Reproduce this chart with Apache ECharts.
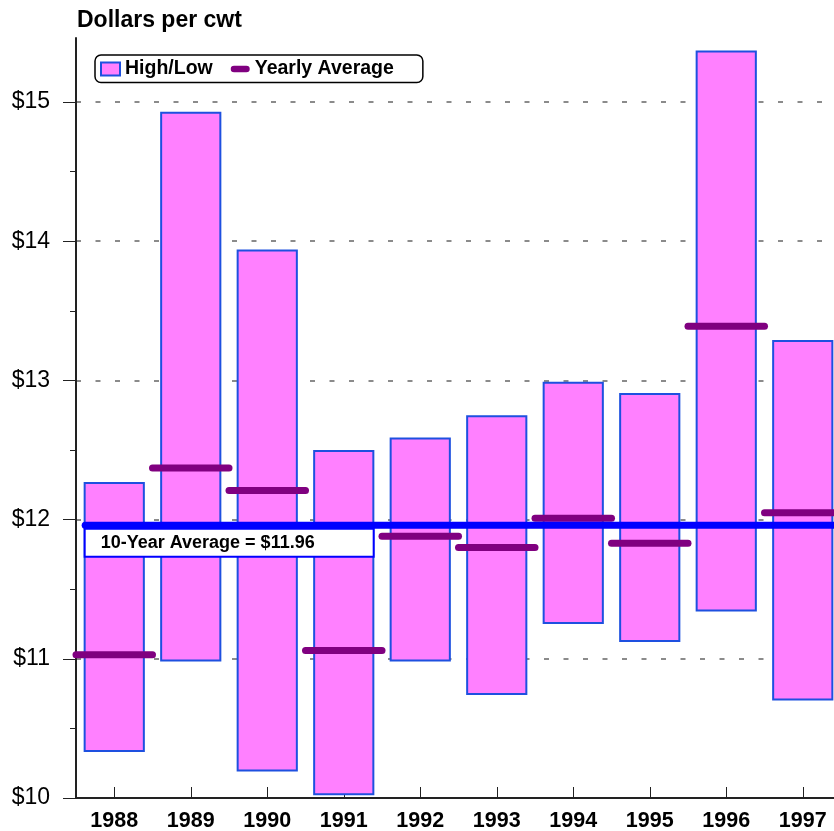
<!DOCTYPE html>
<html><head><meta charset="utf-8">
<script src="https://cdn.jsdelivr.net/npm/echarts@6/dist/echarts.min.js"></script>
<style>html,body{margin:0;padding:0;background:#fff}#c{width:834px;height:831px}</style>
</head><body><div id="c"></div>
<script>
const years = ['1988','1989','1990','1991','1992','1993','1994','1995','1996','1997'];
const highs = [12.27, 14.93, 13.94, 12.50, 12.59, 12.75, 12.99, 12.91, 15.37, 13.29];
const lows = [10.33, 10.98, 10.19, 10.02, 10.98, 10.74, 11.25, 11.12, 11.34, 10.70];
const yearlyAverages = [11.03, 12.37, 12.21, 11.06, 11.88, 11.80, 12.01, 11.83, 13.39, 12.05];
const tenYearAverage = 11.96;
const yTickValues = [10, 11, 12, 13, 14, 15];
const yMinorTickValues = [10.5, 11.5, 12.5, 13.5, 14.5];

const FF = '"Liberation Sans", Arial, sans-serif';
const chart = echarts.init(document.getElementById('c'), null, {renderer: 'canvas'});

const spans = highs.map((h, i) => +(h - lows[i]).toFixed(4));

const option = {
  animation: false,
  backgroundColor: '#fff',
  textStyle: {fontFamily: FF},
  title: {
    text: 'Dollars per cwt', left: 77, top: 9, padding: 0,
    textStyle: {fontSize: 23, fontWeight: 'bold', color: '#000', fontFamily: FF}
  },
  legend: {
    left: 95, top: 55, orient: 'horizontal',
    padding: [4, 29, 3.5, 5], itemGap: 18, itemWidth: 19, itemHeight: 13,
    borderColor: '#000', borderWidth: 1.5, borderRadius: 6,
    textStyle: {fontSize: 19.5, fontWeight: 'bold', color: '#000', fontFamily: FF},
    data: [
      {name: 'High/Low', icon: 'rect'},
      {name: 'Yearly Average', icon: 'path://M0,0 M20,13 M3.5,3 L16.5,3 A3.5,3.5 0 0 1 16.5,10 L3.5,10 A3.5,3.5 0 0 1 3.5,3 Z'}
    ]
  },
  grid: {left: 76, top: 38, width: 765, height: 760, containLabel: false, outerBoundsMode: 'none'},
  xAxis: [
    {
      type: 'category', data: years, boundaryGap: true,
      axisLine: {show: true, lineStyle: {color: '#222', width: 2}},
      axisTick: {show: true, inside: true, alignWithLabel: true, length: 11, lineStyle: {color: '#222', width: 1}},
      axisLabel: {fontSize: 21.5, fontWeight: 'bold', color: '#000', margin: 12, fontFamily: FF, interval: 0},
      splitLine: {show: false}
    },
    {type: 'value', min: 0, max: 10, show: false}
  ],
  yAxis: [
    {
      type: 'value', min: 10, max: 15.46, interval: 1, position: 'left',
      axisLine: {show: true, lineStyle: {color: '#222', width: 2}},
      axisTick: {show: true, length: 13, customValues: yTickValues, lineStyle: {color: '#222', width: 1}},
      axisLabel: {customValues: yTickValues, formatter: v => '$' + v, margin: 26, fontSize: 23, color: '#000', fontFamily: FF},
      splitLine: {show: true, showMaxLine: true, lineStyle: {color: '#666', type: [5, 14.5], width: 1.5}}
    },
    {
      type: 'value', min: 10, max: 15.46, position: 'left', offset: 0,
      axisLine: {show: false},
      axisTick: {show: true, length: 6, customValues: yMinorTickValues, lineStyle: {color: '#222', width: 1}},
      axisLabel: {show: false},
      splitLine: {show: false}
    }
  ],
  series: [
    {
      name: 'base', type: 'bar', stack: 'hl', data: lows, barWidth: '80%',
      itemStyle: {color: 'rgba(0,0,0,0)'}, silent: true, z: 2
    },
    {
      name: 'High/Low', type: 'bar', stack: 'hl', data: spans, barWidth: '80%',
      itemStyle: {color: '#FF80FF', borderColor: '#1E50E0', borderWidth: 2}, z: 2
    },
    {
      name: 'Yearly Average', type: 'custom', xAxisIndex: 0, yAxisIndex: 0, z: 3,
      data: yearlyAverages.map((v, i) => [i, v]),
      encode: {x: 0, y: 1},
      itemStyle: {color: '#800080'},
      clip: false,
      renderItem: function (params, api) {
        const c = api.coord([api.value(0), api.value(1)]);
        const w = api.size([1, 0])[0];
        return {
          type: 'line',
          shape: {x1: c[0] - w / 2, y1: c[1], x2: c[0] + w / 2, y2: c[1]},
          style: {stroke: '#800080', lineWidth: 7, lineCap: 'round'}
        };
      }
    },
    {
      name: '10-Year Average', type: 'line', xAxisIndex: 1, yAxisIndex: 0, z: 4,
      data: [[0.12, tenYearAverage], [10, tenYearAverage]],
      symbol: 'none', silent: true,
      lineStyle: {color: '#0000FF', width: 7, cap: 'round'},
      markPoint: {
        silent: true,
        symbol: 'rect', symbolSize: 1,
        itemStyle: {color: 'rgba(0,0,0,0)'},
        data: [{coord: [0.12, tenYearAverage]}],
        label: {
          show: true,
          formatter: '10-Year Average = $' + tenYearAverage.toFixed(2),
          position: [1, 5], align: 'left', verticalAlign: 'top',
          backgroundColor: '#fff', borderColor: '#0000FF', borderWidth: 2,
          padding: [0, 0, 0, 15], width: 272, height: 26, lineHeight: 26,
          fontSize: 18, fontWeight: 'bold', color: '#000', fontFamily: FF
        }
      }
    }
  ]
};
chart.setOption(option);
</script></body></html>
